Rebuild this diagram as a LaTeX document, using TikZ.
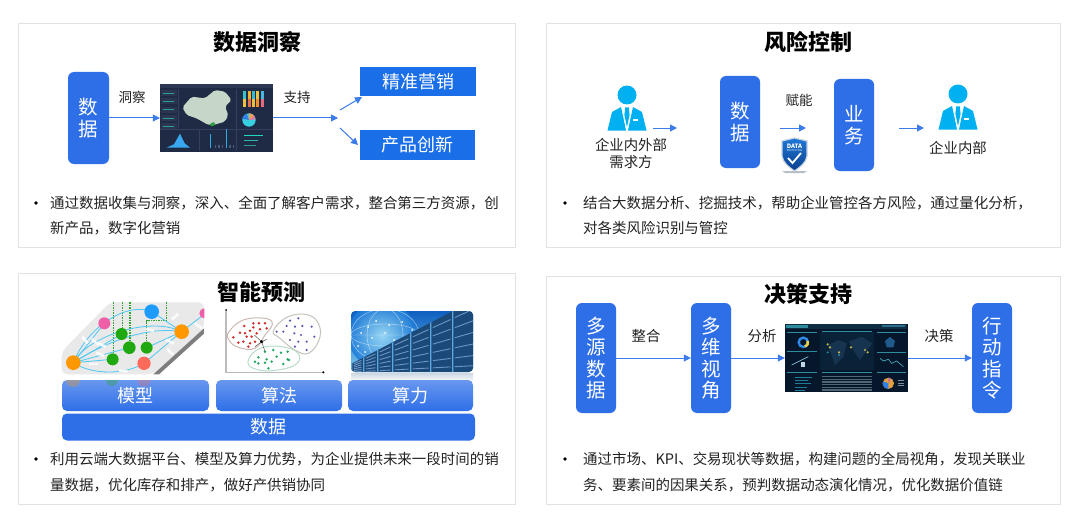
\documentclass[tikz,border=0pt]{standalone}
\usepackage{fontspec}
\setmainfont{Noto Sans CJK SC}
\usetikzlibrary{positioning, arrows.meta, calc, shapes.geometric}
\definecolor{boxblue}{HTML}{2E6FE8}
\definecolor{rectblue}{HTML}{1A6EE8}
\definecolor{arrowblue}{HTML}{3C7BEA}
\definecolor{personblue}{HTML}{00B0F0}
\definecolor{panelgray}{HTML}{E2E2E2}
\definecolor{inkdark}{HTML}{222222}
\definecolor{shieldtop}{HTML}{1E78D8}
\definecolor{shieldbot}{HTML}{0C3F8C}
\definecolor{shieldedge}{HTML}{C8D4E0}
\definecolor{srvtop}{HTML}{0E5FC0}
\definecolor{srvbot}{HTML}{7CC8F0}
\definecolor{srvglow}{HTML}{A8E4FA}
\definecolor{srvouter}{HTML}{1A7AD8}
\definecolor{reflectA}{HTML}{CBD6E2}
\tikzset{
    HTML/.code={\edef\tmphex{\noexpand\definecolor{tmpc}{HTML}{#1}}\tmphex\pgfkeysalso{color=tmpc}},
    panelbox/.style={draw=panelgray, line width=1pt, fill=white, inner sep=0pt},
    titletext/.style={font=\fontsize{22}{24}\selectfont\bfseries, text=black, inner sep=0pt},
    bluebox/.style={fill=boxblue, rounded corners=6pt, inner sep=0pt, text=white, align=center,
        font=\fontsize{19.5}{21.5}\selectfont},
    rectbox/.style={fill=rectblue, inner sep=0pt, text=white, font=\fontsize{18}{20}\selectfont},
    glossbox/.style={rounded corners=5pt, inner sep=0pt, text=white, top color=boxblue!72!white,
        middle color=boxblue, bottom color=boxblue, font=\fontsize{18}{20}\selectfont},
    flatbox/.style={fill=boxblue, rounded corners=5pt, inner sep=0pt, text=white, font=\fontsize{18}{20}\selectfont},
    flowlabel/.style={font=\fontsize{13.5}{15}\selectfont, text=inkdark, inner sep=0pt},
    roletext/.style={font=\fontsize{14.4}{17}\selectfont, text=inkdark, inner sep=0pt, align=center},
    bodytext/.style={font=\fontsize{14.47}{17}\selectfont, text=inkdark, inner sep=0pt, anchor=west},
    bulletdot/.style={circle, fill=black, inner sep=0pt, minimum size=3.6pt},
    flowarrow/.style={draw=arrowblue, line width=1pt, -{Triangle[length=7pt,width=7pt]}},
    slotbox/.style={inner sep=0pt},
    netedge/.style={draw=personblue!70!white, line width=.8pt}
}
\begin{document}
\begin{tikzpicture}[x=1pt,y=-1pt]
\useasboundingbox (0,0) rectangle (1080,519);
\fill[white] (0,0) rectangle (1080,519);

\node[panelbox, minimum width=497, minimum height=223] (panelA) at (266.5,135.5) {};
\node[panelbox, minimum width=514, minimum height=223] (panelB) at (803,135.5) {};
\node[panelbox, minimum width=497, minimum height=231] (panelC) at (266.5,388.5) {};
\node[panelbox, minimum width=514, minimum height=228] (panelD) at (803,390) {};

\node[titletext] (titleA) at (257,42) {数据洞察};
\node[titletext] (titleB) at (808,42) {风险控制};
\node[titletext] (titleC) at (261,292) {智能预测};
\node[titletext] (titleD) at (808,294) {决策支持};

% panel A
\node[bluebox, minimum width=41, minimum height=92] (dataA) at (88.5,118) {数\\据};
\node[slotbox, minimum width=113, minimum height=67] (dashA) at (216.5,118) {};
\fill[HTML=1F2A44] (dashA.north west) rectangle (dashA.south east);
\begin{scope}[shift={(150,75)},scale=1/3]
    \fill[HTML=2B3753] (30,27) rectangle (368,40);
    \foreach \yy in {45,70,95,120,145}{
        \fill[HTML=2A3650] (34,\yy) rectangle (80,\yy+18);
        \fill[HTML=2E9E8C] (40,\yy+8) rectangle (72,\yy+10);
    }
    \draw[HTML=33415F] (84,42) -- (84,160) (258,42) -- (258,228) (30,162) -- (368,162) (148,162) -- (148,228);
    \fill[HTML=C6D6C9, rounded corners=2pt] (97,97) -- (125,65) -- (165,70) -- (195,45) -- (225,50) -- (245,75) -- (225,95)
        -- (235,120) -- (225,140) -- (190,150) -- (175,150) -- (140,130) -- (110,120) -- cycle;
    \fill[HTML=2E9E3E] (178,148) -- (192,141) -- (196,150) -- (184,154) -- cycle;
    \foreach \xx/\cola/\colb in {280/35C2C9/F0C040,293/F0B030/E8704A,306/38B8D0/E8C040,319/F0C040/F09030,332/48B8E0/E86A80}{
        \fill[HTML=\cola] (\xx,48) rectangle (\xx+9,72);
        \fill[HTML=\colb] (\xx,72) rectangle (\xx+9,95);
    }
    \fill[HTML=38D0E0] (297,135) circle (20);
    \fill[HTML=2E7FE8] (297,135) -- ++(190:20) arc (190:250:20) -- cycle;
    \fill[HTML=F0A050] (297,135) -- ++(-90:20) arc (-90:-40:20) -- cycle;
    \fill[HTML=E87AA0] (297,135) -- ++(-40:20) arc (-40:-5:20) -- cycle;
    \fill[HTML=38A8F0] (50,218) -- (72,208) -- (90,176) -- (104,205) -- (120,218) -- cycle;
    \foreach \xx/\hh in {180/40,228/55}{
        \fill[HTML=2FA8E8] (\xx,218-\hh) rectangle (\xx+4,218);
    }
    \foreach \xx in {195,205,215,238,248}{
        \fill[HTML=4A5A78] (\xx,210) rectangle (\xx+4,218);
    }
    \foreach \yy/\colc/\ww in {182/20D8C0/340,197/2FB8A0/325,212/2E9E8C/318}{
        \fill[HTML=\colc] (282,\yy-2) rectangle (\ww,\yy+2);
    }
\end{scope}
\node[rectbox, minimum width=116, minimum height=29] (market) at (418,81.5) {精准营销};
\node[rectbox, minimum width=115, minimum height=30] (product) at (417.5,145) {产品创新};
\node[flowlabel] (lblinsight) at (132,97) {洞察};
\node[flowlabel] (lblsupport) at (297,97) {支持};
\coordinate (splitA) at (338,118);
\coordinate (upstart) at (340,110);
\coordinate (upend) at (362,97);
\coordinate (downstart) at (340,128);
\coordinate (downend) at (358,145);
\draw[flowarrow] (dataA.east) -- (dashA.west);
\draw[flowarrow] (dashA.east) -- (splitA);
\draw[flowarrow] (upstart) -- (upend);
\draw[flowarrow] (downstart) -- (downend);
\node[bulletdot] (dotA) at (36,203) {};
\node[bodytext] (textAa) at (50,203) {通过数据收集与洞察，深入、全面了解客户需求，整合第三方资源，创};
\node[bodytext] (textAb) at (50,228) {新产品，数字化营销};

% panel B
\foreach \px/\py in {627/95,958/94}{
    \begin{scope}[shift={(\px,\py)}]
        \fill[personblue] (0,0) circle (9.5);
        \fill[personblue] (-19.5,35.5) -- (-15,17) -- (-6,12) -- (-3.8,22) -- (-1,35.5) -- cycle;
        \fill[personblue] (19.5,35.5) -- (15,17) -- (6,12) -- (3.8,22) -- (1,35.5) -- cycle;
        \fill[personblue] (-1.8,12.5) -- (1.8,12.5) -- (2.6,20) -- (0,32) -- (-2.6,20) -- cycle;
        \fill[white] (6,24.5) rectangle (11,26);
    \end{scope}
}
\node[roletext] (roleout) at (631,153.5) {企业内外部\\需求方};
\node[roletext] (rolein) at (958,148) {企业内部};
\node[bluebox, minimum width=40, minimum height=92] (dataB) at (740,122) {数\\据};
\node[bluebox, minimum width=40, minimum height=92] (bizB) at (854,125) {业\\务};
\node[flowlabel] (lblempower) at (799,100) {赋能};
\coordinate (arrAa) at (653,128);
\coordinate (arrAb) at (677,128);
\coordinate (arrBa) at (780,128);
\coordinate (arrBb) at (806,128);
\coordinate (arrCa) at (899,128);
\coordinate (arrCb) at (924,128);
\draw[flowarrow] (arrAa) -- (arrAb);
\draw[flowarrow] (arrBa) -- (arrBb);
\draw[flowarrow] (arrCa) -- (arrCb);
\fill[HTML=B8BEC6] (782,171) -- (807,171) -- (804,173) -- (785,173) -- cycle;
\shade[top color=shieldtop, bottom color=shieldbot, draw=shieldedge, line width=1.2pt] (782,141) -- (794.5,138) -- (807,141) -- (807,156)
    .. controls (806,163) and (800,167) .. (794.5,171) .. controls (789,167) and (783,163) .. (782,156) -- cycle;
\node[inner sep=0pt, text=white, font=\fontsize{6}{6}\selectfont\bfseries] (shieldtext) at (794.5,146) {DATA};
\node[inner sep=0pt, text=white, font=\fontsize{2.5}{3}\selectfont] (shieldsub) at (794.5,151) {PROTECTION};
\draw[white, line width=1.8pt] (788,158) -- (792.5,163) -- (801,153);
\node[bulletdot] (dotB) at (565,203) {};
\node[bodytext] (textBa) at (583,203) {结合大数据分析、挖掘技术，帮助企业管控各方风险，通过量化分析，};
\node[bodytext] (textBb) at (583,228) {对各类风险识别与管控};

% panel C
\begin{scope}[shift={(55,295)},scale=1/3]
    \fill[HTML=E9E9E9, rounded corners=6pt] (20,170) -- (165,22) -- (447,22) -- (447,100) -- (295,238) -- (20,238) -- cycle;
    \fill[HTML=7E7E7E] (447,100) -- (447,116) -- (312,238) -- (295,238) -- cycle;
    \draw[HTML=2FA52F, line width=1.5pt, densely dotted] (175,22) -- (175,175) (202,22) -- (202,100) (225,22) -- (225,140)
        (335,22) -- (335,77) -- (275,77) -- (275,140);
    \draw[netedge] (55,203) .. controls (100,90) and (220,20) .. (290,50);
    \draw[netedge] (55,203) .. controls (90,130) and (280,60) .. (380,110);
    \draw[netedge] (55,203) .. controls (120,160) and (260,90) .. (380,110);
    \draw[netedge] (55,203) -- (148,85);
    \draw[netedge] (55,203) -- (200,117);
    \draw[netedge] (55,203) -- (223,158);
    \draw[netedge] (55,203) -- (173,193);
    \draw[netedge] (55,203) .. controls (110,240) and (210,240) .. (267,205);
    \draw[netedge] (380,110) -- (275,158);
    \draw[netedge] (380,110) -- (267,205);
    \draw[netedge] (380,110) -- (290,50);
    \draw[netedge] (380,110) -- (445,60);
    \foreach \lx/\ly/\la in {90/135/-50,120/140/-45,140/150/-25,135/178/-20,115/207/0,205/228/-5,285/105/-15,345/140/-25,345/170/-45,360/65/40,430/92/-35}{
        \fill[white, opacity=.85, rotate around={\la:(\lx,\ly)}] (\lx-13,\ly-4) rectangle (\lx+13,\ly+4);
    }
    \fill[HTML=FF9800] (55,203) circle (22);
    \fill[HTML=EE5FA8] (148,85) circle (18);
    \fill[HTML=1FA80F] (200,117) circle (18);
    \fill[HTML=1FA80F] (223,158) circle (19);
    \fill[HTML=1FA80F] (275,158) circle (18);
    \fill[HTML=1FA80F] (173,193) circle (18);
    \fill[HTML=1E9BFF] (290,50) circle (22);
    \fill[HTML=FF9800] (380,110) circle (22);
    \fill[HTML=FF6A5A] (267,205) circle (20);
    \fill[HTML=EE5FA8] (448,40) arc (-90:-270:15) -- cycle;
\end{scope}
\begin{scope}[shift={(215,300)},scale=1/3]
    \draw[HTML=BBBBBB, line width=1.2pt] (33,34) -- (33,217) -- (322,217);
    \fill[black] (33,30) circle (3) (325,217) circle (3.6);
    \draw[HTML=CDB8B2, line width=1pt, fill=white] plot[smooth cycle, tension=.7] coordinates {(42,95) (85,60) (150,55) (172,72) (150,105) (120,145) (70,142) (42,120)};
    \draw[HTML=C6C2BC, line width=1pt, fill=white] plot[smooth cycle, tension=.7] coordinates {(175,92) (220,50) (280,45) (312,75) (312,120) (280,160) (240,150) (195,115)};
    \draw[HTML=B8DCC8, line width=1pt, fill=white] plot[smooth cycle, tension=.7] coordinates {(100,180) (135,145) (200,140) (250,160) (240,195) (170,212) (115,205)};
    \foreach \dx/\dy in {55/112,70/128,88/78,115/70,132/70,150/70,90/100,105/92,115/82,135/88,155/85,75/98,95/110,110/110,125/100,105/130,85/125,120/125,100/140}{
        \fill[HTML=D22B2B] (\dx,\dy) circle (4.2);
    }
    \foreach \dx/\dy in {225/62,250/55,215/78,240/80,262/78,185/95,205/95,238/100,258/105,290/80,298/110,225/120,250/125,275/125,275/150,240/140}{
        \fill[HTML=5A55B0] (\dx,\dy) circle (3.6);
    }
    \foreach \dx/\dy in {150/155,175/150,198/158,218/155,130/172,155/178,185/170,218/178,120/185,150/188,170/185,205/192,130/190,160/205,222/180}{
        \fill[HTML=22A862] (\dx,\dy) circle (4.2);
    }
    \draw[HTML=555555, line width=.5pt] (140,125) -- (118,105) (140,125) -- (155,118) (140,125) -- (120,140) (140,125) -- (150,155);
    \fill[black] (140,125) circle (5);
\end{scope}
\begin{scope}
    \clip[rounded corners=4pt] (351,311) rectangle (473,372);
    \shade[top color=srvtop, bottom color=srvbot] (351,311) rectangle (473,372);
    \shade[inner color=srvglow, outer color=srvouter, opacity=.85] (382,335) circle (34);
    \draw[white, opacity=.6, line width=.4pt] (385,335) ellipse (34 and 26) (385,335) ellipse (18 and 26) (385,335) ellipse (34 and 11) (351,335) -- (419,335);
    \foreach \gx/\gy in {361/333,368/327,376/321,389/325,358/346,372/338,385/333,394/340,365/352,402/322,412/330}{
        \fill[white] (\gx,\gy) circle (1);
    }
    \foreach \rx/\rw in {351/12,363/14,377/15,392/18,410/20,430/22,452/24}{
        \fill[HTML=1C4A78] (\rx,{364-(\rx-351)*.52}) -- (\rx+\rw,{364-(\rx+\rw-351)*.52}) -- (\rx+\rw,373) -- (\rx,373) -- cycle;
        \fill[HTML=5CA8DC] (\rx,{364-(\rx-351)*.52}) -- (\rx+1.4,{364-(\rx+1.4-351)*.52}) -- (\rx+1.4,373) -- (\rx,373) -- cycle;
        \foreach \sl in {.12,.28,.44,.6,.76,.9}{
            \draw[HTML=7FA8D8, opacity=.8, line width=.9pt]
                ({\rx+2.8},{364-(\rx+2.8-351)*.52+(373-364+(\rx+2.8-351)*.52)*\sl})
                -- ({\rx+\rw-1.5},{364-(\rx+\rw-1.5-351)*.52+(373-364+(\rx+\rw-1.5-351)*.52)*\sl});
        }
    }
\end{scope}
\shade[top color=reflectA, bottom color=white] (351,373) rectangle (473,382);
\node[glossbox, minimum width=147, minimum height=31] (model) at (135.5,395.5) {模型};
\node[glossbox, minimum width=126, minimum height=31] (algo) at (279,395.5) {算法};
\node[glossbox, minimum width=125, minimum height=31] (power) at (410.5,395.5) {算力};
\begin{scope}
    \clip (62,380) rectangle (205,388);
    \fill[HTML=FF9800, opacity=.3] (73,380) circle (7);
    \fill[HTML=1FA80F, opacity=.3] (112,380) circle (6);
    \fill[HTML=FF6A5A, opacity=.3] (144,380) circle (6.5);
\end{scope}
\node[flatbox, minimum width=413, minimum height=27] (dataC) at (268.5,427) {数据};
\node[bulletdot] (dotC) at (36,459) {};
\node[bodytext] (textCa) at (50,459) {利用云端大数据平台、模型及算力优势，为企业提供未来一段时间的销};
\node[bodytext] (textCb) at (50,485) {量数据，优化库存和排产，做好产供销协同};

% panel D
\node[bluebox, minimum width=40, minimum height=110] (multisrc) at (596,358) {多\\源\\数\\据};
\node[bluebox, minimum width=40, minimum height=110] (multiview) at (711,358) {多\\维\\视\\角};
\node[bluebox, minimum width=40, minimum height=110] (action) at (992,358) {行\\动\\指\\令};
\node[slotbox, minimum width=123, minimum height=68] (dashB) at (846.5,358) {};
\fill[HTML=06162B] (dashB.north west) rectangle (dashB.south east);
\begin{scope}[shift={(775,315)},scale=1/3]
    \fill[HTML=0F2E44] (30,27) rectangle (397,42);
    \fill[HTML=2E8C9C] (34,30) rectangle (100,38);
    \fill[HTML=2E6C8C] (320,31) rectangle (390,36);
    \fill[HTML=0A2238] (135,50) rectangle (298,165);
    \fill[HTML=16334F] (158,92) -- (190,75) -- (215,85) -- (205,125) -- (180,150) -- (170,120) -- cycle;
    \fill[HTML=16334F] (222,80) -- (260,65) -- (292,85) -- (270,115) -- (255,135) -- (238,110) -- cycle;
    \foreach \yx/\yy in {158/88,165/97,192/112,228/97,270/105,278/112}{
        \fill[HTML=C9B84A] (\yx,\yy) circle (3.6);
    }
    \fill[HTML=2F9DA8] (158,112) circle (3) (192,120) circle (3);
    \draw[HTML=2E8C9C, line width=.7pt] (35,52) -- (125,52) (35,110) -- (125,110) (35,172) -- (125,172) (140,50) -- (290,50) (305,52) -- (392,52) (305,112) -- (392,112) (305,172) -- (392,172) (140,172) -- (290,172);
    \draw[HTML=2E8CE8, line width=2.4pt] (85,82) circle (14);
    \draw[HTML=E8D040, line width=2.4pt] (85,82) ++(-20:14) arc (-20:70:14);
    \draw[HTML=8CC8E0, line width=.7pt] (50,150) -- (70,140) -- (100,125);
    \fill[HTML=C0D8E8] (78,142) rectangle (90,155);
    \fill[HTML=1E5A8C] (345,66) -- (360,78) -- (355,97) -- (335,97) -- (330,78) -- cycle;
    \draw[HTML=4FB8C8, line width=.6pt] (315,130) -- (325,138) -- (340,133) -- (350,145) -- (365,138) -- (385,155);
    \foreach \yy/\ww in {185/112,195/100,205/108,215/95,225/90}{
        \fill[HTML=1F7C98] (60,\yy) rectangle (\ww,\yy+2.5);
    }
    \foreach \yy in {183,191,199,207,215,223}{
        \fill[HTML=8FA8B0, opacity=.55] (140,\yy) rectangle (290,\yy+3.5);
    }
    \fill[HTML=E0A040] (340,205) circle (17);
    \fill[HTML=2E7FE8] (340,205) -- ++(90:17) arc (90:200:17) -- cycle;
    \fill[HTML=C06AA0] (340,205) -- ++(-90:17) arc (-90:-60:17) -- cycle;
    \foreach \yy in {195,203,211}{
        \fill[HTML=7A8C98] (368,\yy) rectangle (386,\yy+3);
    }
\end{scope}
\node[flowlabel, font=\fontsize{14.4}{16}\selectfont] (lblmerge) at (646,336) {整合};
\node[flowlabel, font=\fontsize{14.4}{16}\selectfont] (lblanalyze) at (762,336) {分析};
\node[flowlabel, font=\fontsize{14.4}{16}\selectfont] (lbldecide) at (939,336) {决策};
\draw[flowarrow] (multisrc.east) -- (multiview.west);
\draw[flowarrow] (multiview.east) -- (dashB.west);
\draw[flowarrow] (dashB.east) -- (action.west);
\node[bulletdot] (dotD) at (565,459) {};
\node[bodytext] (textDa) at (583,459) {通过市场、KPI、交易现状等数据，构建问题的全局视角，发现关联业};
\node[bodytext] (textDb) at (583,485) {务、要素间的因果关系，预判数据动态演化情况，优化数据价值链};
\end{tikzpicture}
\end{document}
